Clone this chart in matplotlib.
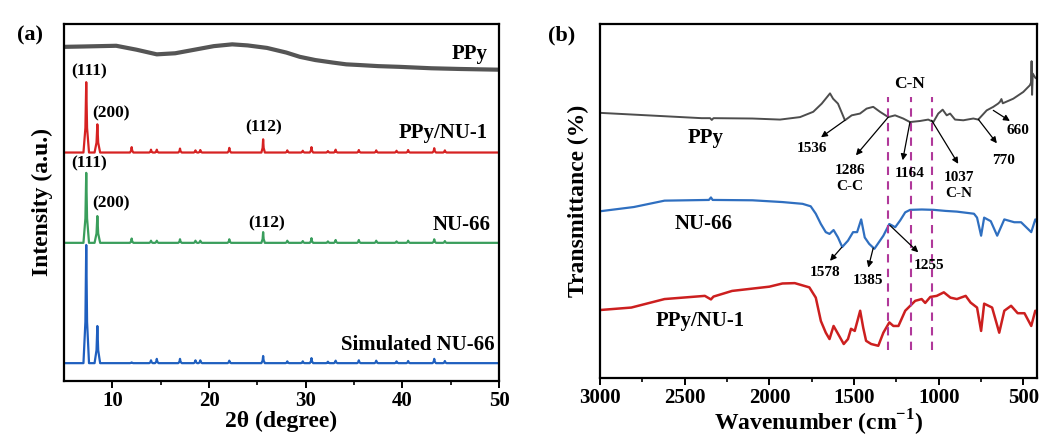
import matplotlib
matplotlib.use("Agg")
import matplotlib.pyplot as plt

plt.rcParams['font.family'] = ['Liberation Serif', 'DejaVu Serif']
plt.rcParams['font.weight'] = 'bold'
plt.rcParams['mathtext.fontset'] = 'custom'
plt.rcParams['mathtext.rm'] = 'Liberation Serif:bold'

#############--- (a) XRD data ---#############
# PPy broad amorphous trace
ppy_xrd_2t = [5, 7, 10.4, 12.5, 14.6, 16.5, 18.5, 20.5, 22.4, 24, 26, 28, 29.4, 31, 32.8, 34.2, 35.6, 37.5, 39.7, 43, 46, 50]
ppy_xrd_i = [93.6, 93.7, 93.9, 92.8, 91.5, 91.8, 92.8, 93.8, 94.3, 94.0, 93.3, 92.0, 90.8, 89.9, 89.2, 88.7, 88.5, 88.2, 88.0, 87.6, 87.4, 87.2]

# peak tables: 2theta, height above baseline
pk_2t = [7.3, 8.45, 12.0, 14.0, 14.6, 17.0, 18.6, 19.1, 22.1, 25.6, 28.1, 29.7, 30.6, 32.3, 33.1, 35.5, 37.3, 39.4, 40.6, 43.3, 44.4]
red_h = [19.7, 7.9, 1.5, 0.8, 0.8, 1.1, 0.6, 0.7, 1.3, 3.7, 0.6, 0.5, 1.5, 0.4, 0.8, 0.7, 0.6, 0.5, 0.7, 1.2, 0.6]
green_h = [19.6, 7.5, 1.2, 0.6, 0.6, 1.0, 0.6, 0.6, 1.0, 3.0, 0.6, 0.5, 1.3, 0.4, 0.8, 0.8, 0.6, 0.4, 0.6, 1.0, 0.5]
blue_h = [33.1, 10.4, 0.2, 0.8, 1.2, 1.2, 0.8, 0.8, 0.7, 2.0, 0.5, 0.5, 1.4, 0.4, 0.7, 0.8, 0.7, 0.5, 0.6, 1.2, 0.6]
red_base, green_base, blue_base = 64.0, 38.7, 5.0

#############--- (b) FTIR data ---#############
ppy_wn = [3000, 2800, 2600, 2400, 2350, 2340, 2330, 2100, 1937, 1819, 1741, 1691, 1642, 1624, 1595, 1554, 1514, 1465, 1426, 1387, 1347, 1298, 1258, 1210, 1170, 1111, 1062, 1032, 1003, 977, 953, 933, 904, 855, 796, 767, 717, 678, 650, 639, 630, 622, 560, 501, 462, 455, 452, 449, 445, 430, 420]
ppy_t = [74.9, 74.4, 73.9, 73.4, 73.4, 72.9, 73.4, 73.3, 73.0, 73.7, 75.2, 77.5, 80.4, 78.9, 77.5, 72.8, 74.2, 74.7, 76.1, 76.6, 75.2, 73.7, 74.2, 73.3, 72.3, 72.6, 73.0, 72.3, 74.7, 75.8, 74.2, 74.7, 73.0, 72.8, 73.3, 73.0, 75.6, 76.6, 77.5, 78.0, 78.8, 77.6, 78.9, 80.8, 82.7, 83.5, 89.5, 80.0, 86.0, 84.8, 84.5]

nu_wn = [3000, 2800, 2619, 2357, 2345, 2335, 2100, 1923, 1804, 1756, 1726, 1696, 1667, 1645, 1621, 1595, 1570, 1536, 1506, 1482, 1458, 1437, 1411, 1380, 1327, 1292, 1257, 1228, 1198, 1169, 1100, 1030, 960, 893, 792, 774, 750, 732, 693, 655, 613, 554, 514, 454, 430, 420]
nu_t = [47.1, 48.3, 50.1, 50.3, 51.0, 50.3, 50.2, 49.7, 49.2, 48.5, 46.4, 43.5, 41.2, 40.7, 41.8, 39.7, 37.0, 38.8, 41.2, 41.2, 44.8, 39.7, 37.9, 36.5, 40.2, 43.5, 42.6, 44.5, 46.8, 47.5, 47.6, 47.5, 47.2, 47.0, 46.4, 45.3, 40.2, 45.3, 44.3, 40.2, 44.8, 44.0, 44.0, 41.2, 44.8, 44.0]

pn_wn = [3000, 2815, 2619, 2381, 2345, 2330, 2220, 2000, 1923, 1850, 1764, 1726, 1696, 1667, 1645, 1621, 1595, 1561, 1536, 1518, 1496, 1464, 1446, 1429, 1399, 1357, 1327, 1292, 1268, 1238, 1198, 1139, 1101, 1080, 1050, 1012, 970, 931, 893, 841, 812, 774, 750, 732, 685, 643, 613, 573, 534, 494, 454, 430, 420]
pn_t = [19.2, 19.9, 22.3, 23.2, 22.2, 23.0, 24.6, 25.8, 26.7, 26.8, 25.6, 22.7, 16.1, 12.8, 11.0, 14.7, 12.5, 9.6, 11.0, 13.9, 13.3, 19.0, 14.2, 10.5, 9.6, 9.1, 12.8, 15.7, 14.7, 14.7, 19.0, 21.8, 22.3, 21.2, 22.9, 23.2, 24.2, 22.7, 22.3, 23.2, 21.3, 19.9, 13.3, 21.0, 19.9, 12.8, 19.0, 20.4, 18.3, 18.3, 14.7, 19.0, 18.6]

dash_wn = [1298, 1164, 1040]

# annotations: label, arrow tail (wn, T), arrow head (wn, T), text centre (wn, T)
ftir_notes = [
    ("1536", (1554, 72.8), (1695, 68.0), (1748, 64.8)),
    ("1286\nC-C", (1298, 73.7), (1489, 62.9), (1524, 56.4)),
    ("1164", (1170, 72.3), (1213, 61.5), (1170, 57.7)),
    ("1037\nC-N", (1042, 72.8), (885, 60.5), (880, 54.4)),
    ("770", (767, 73.1), (657, 66.3), (615, 61.5)),
    ("660", (678, 75.6), (580, 72.6), (532, 70.0)),
    ("1578", (1573, 36.9), (1642, 33.1), (1672, 29.8)),
    ("1385", (1387, 36.7), (1416, 31.2), (1416, 27.5)),
    ("1255", (1288, 43.1), (1121, 35.5), (1055, 31.9)),
]


def peak_trace(pos, hts, base, w=0.18):
    # turn peak table into polyline vertices
    xs, ys = [5.0], [base]
    for p, h in zip(pos, hts):
        ww = w * 1.6 if h > 5 else w
        xs += [p - ww, p - ww * 0.3, p, p + ww * 0.3, p + ww]
        ys += [base, base + h * 0.35, base + h, base + h * 0.35, base]
    xs.append(50.0)
    ys.append(base)
    return xs, ys


fig = plt.figure(figsize=(10.59, 4.47), dpi=100)
axa = fig.add_axes([64 / 1059, 66 / 447, 435 / 1059, 357 / 447])
axb = fig.add_axes([600 / 1059, 69 / 447, 437 / 1059, 354 / 447])

# ---- panel (a)
axa.plot(ppy_xrd_2t, ppy_xrd_i, color='#555555', lw=3.0)
for hts, base, col in [(red_h, red_base, '#d62222'), (green_h, green_base, '#3a9e5c'), (blue_h, blue_base, '#1f5fbf')]:
    xs, ys = peak_trace(pk_2t, hts, base)
    axa.plot(xs, ys, color=col, lw=1.6)

axa.set_xlim(5, 50)
axa.set_ylim(0, 100)
axa.set_yticks([])
axa.set_xticks([10, 20, 30, 40, 50])
axa.set_xticks([15, 25, 35, 45], minor=True)
axa.set_xlabel("2θ (degree)", fontsize=17, fontweight='bold', labelpad=0)
axa.set_ylabel("Intensity (a.u.)", fontsize=17, fontweight='bold', labelpad=8)

lab = dict(fontsize=15, fontweight='bold', ha='right', va='center')
axa.text(48.8, 91.6, "PPy", **lab)
axa.text(48.8, 69.5, "PPy/NU-1", **lab)
axa.text(49.1, 43.7, "NU-66", **lab)
axa.text(49.5, 10.1, "Simulated NU-66", **lab)
hk = dict(fontsize=12.5, fontweight='bold', ha='center', va='center')
axa.text(7.6, 86.6, "(111)", **hk)
axa.text(9.9, 75.0, "(200)", **hk)
axa.text(25.7, 70.9, "(112)", **hk)
axa.text(7.6, 61.0, "(111)", **hk)
axa.text(9.9, 49.8, "(200)", **hk)
axa.text(26.0, 44.2, "(112)", **hk)

# ---- panel (b)
axb.plot(ppy_wn, ppy_t, color='#4d4d4d', lw=1.4)
axb.plot(nu_wn, nu_t, color='#2f6fc0', lw=1.6)
axb.plot(pn_wn, pn_t, color='#cc1f1f', lw=1.8)
for wn in dash_wn:
    axb.plot([wn, wn], [8.0, 79.5], color='#b0389a', lw=1.5, ls=(0, (4, 3)))

axb.set_xlim(3000, 420)
axb.set_ylim(0, 100)
axb.set_yticks([])
axb.set_xticks([3000, 2500, 2000, 1500, 1000, 500])
axb.set_xticks([2750, 2250, 1750, 1250, 750], minor=True)
axb.set_xlabel("Wavenumber (cm$^{-1}$)", fontsize=17, fontweight='bold', labelpad=0)
axb.set_ylabel("Transmittance (%)", fontsize=17, fontweight='bold', labelpad=8)

for txt, tail, head, tpos in ftir_notes:
    axb.annotate("", xy=head, xytext=tail,
                 arrowprops=dict(arrowstyle='-|>', color='k', lw=0.9, mutation_scale=9, shrinkA=0, shrinkB=0))
    axb.text(tpos[0], tpos[1], txt, fontsize=11, fontweight='bold', ha='center', va='center', linespacing=1.25)
axb.text(1170, 83.0, "C-N", fontsize=12.5, fontweight='bold', ha='center', va='center')

slab = dict(fontsize=15, fontweight='bold', ha='center', va='center')
axb.text(2374, 67.7, "PPy", **slab)
axb.text(2390, 43.6, "NU-66", **slab)
axb.text(2410, 16.1, "PPy/NU-1", **slab)

for ax in (axa, axb):
    for s in ax.spines.values():
        s.set_linewidth(1.6)
    ax.tick_params(axis='x', which='major', direction='out', length=5, width=1.4, labelsize=15, pad=2)
    ax.tick_params(axis='x', which='minor', direction='out', length=3, width=1.2)
    for t in ax.get_xticklabels():
        t.set_fontweight('bold')

fig.text(30 / 1059, 1 - 35 / 447, "(a)", fontsize=16, fontweight='bold', ha='center', va='center')
fig.text(562 / 1059, 1 - 35 / 447, "(b)", fontsize=16, fontweight='bold', ha='center', va='center')

fig.savefig("out.png", dpi=100)
